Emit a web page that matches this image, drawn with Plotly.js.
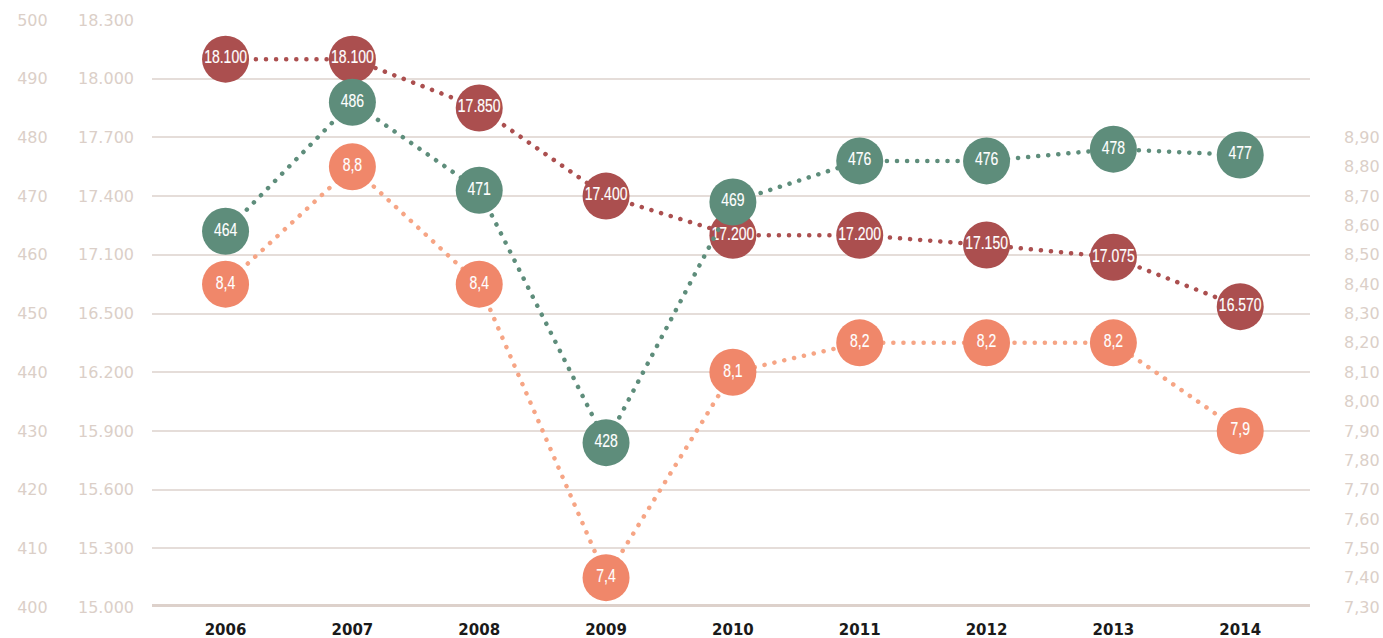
<!DOCTYPE html>
<html><head><meta charset="utf-8">
<script src="https://cdn.plot.ly/plotly-3.0.1.min.js"></script>
<style>html,body{margin:0;padding:0;background:#fff}#chart{width:1383px;height:638px}</style>
</head><body><div id="chart"></div>
<script>
const years = [2006, 2007, 2008, 2009, 2010, 2011, 2012, 2013, 2014];
const redValues = [18100, 18100, 17850, 17400, 17200, 17200, 17150, 17075, 16570];
const greenValues = [464, 486, 471, 428, 469, 476, 476, 478, 477];
const orangeValues = [8.4, 8.8, 8.4, 7.4, 8.1, 8.2, 8.2, 8.2, 7.9];
// middle-left axis labels exactly as printed on the chart (one per gridline, bottom to top)
const midTickLabels = [15000, 15300, 15600, 15900, 16200, 16500, 17100, 17400, 17700, 18000, 18300];
const farLeftTicks = [400, 410, 420, 430, 440, 450, 460, 470, 480, 490, 500];
const rightTicks = [7.3, 7.4, 7.5, 7.6, 7.7, 7.8, 7.9, 8.0, 8.1, 8.2, 8.3, 8.4, 8.5, 8.6, 8.7, 8.8, 8.9];

// The printed middle axis is piecewise (one gridline per label); map values onto gridline index
function toGridIndex(v) {
  const t = midTickLabels;
  for (let i = 0; i < t.length - 1; i++) {
    if (v >= t[i] && v <= t[i + 1]) return i + (v - t[i]) / (t[i + 1] - t[i]);
  }
  return v < t[0] ? 0 : t.length - 1;
}
const fmtThousands = v => String(v).replace(/\B(?=(\d{3})+(?!\d))/g, '.');

const axisFont = {family: 'DejaVu Sans, Lato, sans-serif', size: 16, color: '#dbcfc8'};
const labelFont = {family: '"Liberation Sans", Arial, sans-serif', size: 17.5, color: '#ffffff'};
const dotDash = '0.1px,10px';

const traces = [
  {x: years, y: greenValues, yaxis: 'y2', type: 'scatter', mode: 'lines+markers+text',
   line: {color: '#5e8d7b', width: 4.5, dash: dotDash},
   marker: {size: 47, color: '#5e8d7b'},
   texttemplate: '%{y:.0f}', textposition: 'middle center', textfont: labelFont,
   cliponaxis: false, hoverinfo: 'skip'},
  {x: years, y: orangeValues, yaxis: 'y3', type: 'scatter', mode: 'lines+markers+text',
   line: {color: '#f6a585', width: 4.5, dash: dotDash},
   marker: {size: 47, color: '#f0876a'},
   texttemplate: '%{y:.1f}', textposition: 'middle center', textfont: labelFont,
   cliponaxis: false, hoverinfo: 'skip'},
  {x: years, y: redValues.map(toGridIndex), yaxis: 'y', type: 'scatter', mode: 'lines+markers+text',
   line: {color: '#ab4f4f', width: 4.5, dash: dotDash},
   marker: {size: 47, color: '#ab4f4f'},
   text: redValues.map(fmtThousands), textposition: 'middle center', textfont: labelFont,
   cliponaxis: false, hoverinfo: 'skip'}
];

const layout = {
  width: 1383, height: 638,
  margin: {l: 0, r: 0, t: 20, b: 31},
  paper_bgcolor: '#ffffff', plot_bgcolor: '#ffffff',
  separators: ',.',
  showlegend: false,
  xaxis: {domain: [0.1099, 0.9472], range: [2005.42, 2014.55], tickvals: years,
          showgrid: false, zeroline: false, showline: false, ticks: '',
          tickfont: {family: 'DejaVu Sans, Lato, sans-serif', size: 15, color: '#1a1a1a', weight: 'bold'},
          ticklabelstandoff: 12},
  yaxis: {range: [0, midTickLabels.length - 1], tickvals: midTickLabels.map((_, i) => i),
          ticktext: midTickLabels.map(fmtThousands),
          showgrid: true, gridcolor: '#e5ddd9', gridwidth: 2, zeroline: false,
          showline: false, ticks: '', tickfont: axisFont, ticklabelstandoff: 17},
  yaxis2: {range: [400, 500], tickvals: farLeftTicks, overlaying: 'y', side: 'left',
           anchor: 'free', position: 0.0345, showgrid: false, zeroline: false,
           showline: false, ticks: '', tickfont: axisFont, ticklabelstandoff: 0},
  yaxis3: {range: [7.3, 9.3], tickvals: rightTicks, tickformat: '.2f', overlaying: 'y',
           side: 'right', anchor: 'x', showgrid: false, zeroline: false, showline: false,
           ticks: '', tickfont: axisFont, ticklabelstandoff: 33},
  shapes: [{type: 'line', xref: 'x domain', yref: 'y', x0: 0, x1: 1, y0: 0, y1: 0,
            line: {color: '#ddd1cb', width: 6}, layer: 'below'}]
};
Plotly.newPlot('chart', traces, layout, {staticPlot: true, displayModeBar: false}).then(gd => {
  gd.querySelectorAll('.scatterlayer .js-line').forEach(p => {
    p.style.strokeLinecap = 'round';
  });
  gd.querySelectorAll('.scatterlayer .textpoint text').forEach(t => {
    t.style.transformBox = 'fill-box';
    t.style.transformOrigin = 'center';
    t.style.transform = 'scaleX(0.8)';
    t.style.stroke = '#ffffff';
    t.style.strokeWidth = '0.15px';
  });
});
</script></body></html>
